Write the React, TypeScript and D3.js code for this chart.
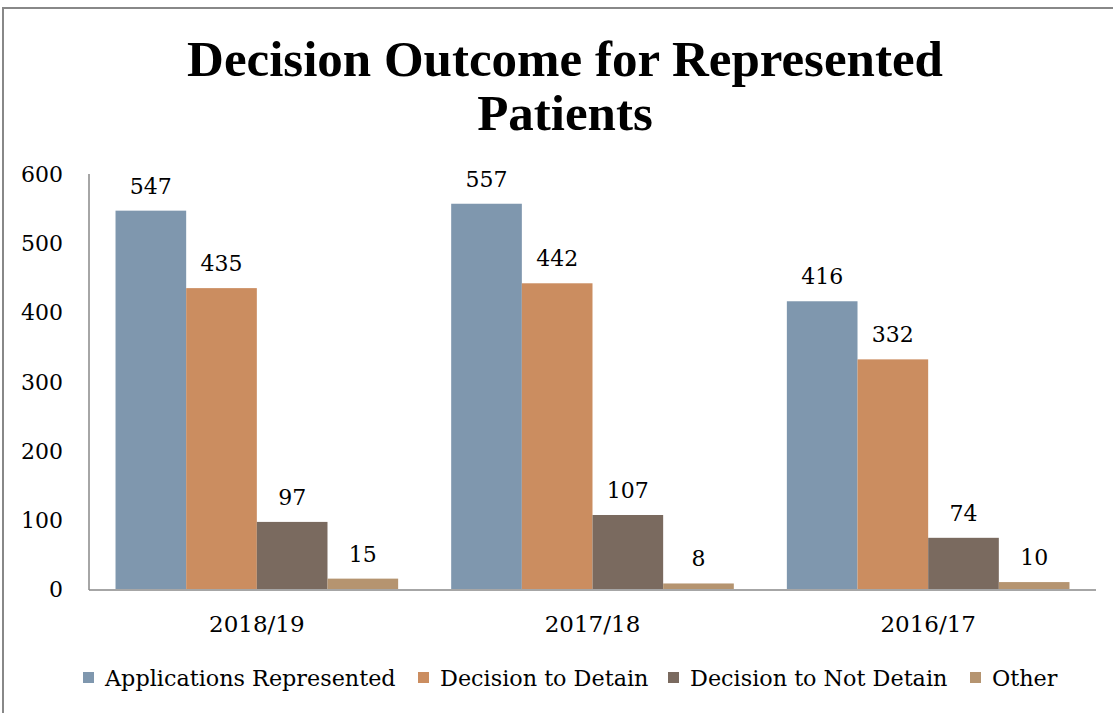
import React from "react";
import * as d3 from "d3";

const categories = ["2018/19", "2017/18", "2016/17"];
const seriesNames = ["Applications Represented", "Decision to Detain", "Decision to Not Detain", "Other"];
const applicationsRepresented = [547, 557, 416];
const decisionToDetain = [435, 442, 332];
const decisionToNotDetain = [97, 107, 74];
const other = [15, 8, 10];
const yTicks = [0, 100, 200, 300, 400, 500, 600];
const colors = ["#7F97AE", "#CB8D60", "#7A6A5F", "#B59470"];

const seriesValues = [applicationsRepresented, decisionToDetain, decisionToNotDetain, other];

export default function App() {
  const W = 1113;
  const H = 713;
  const left = 89;
  const right = 1096;
  const top = 174;
  const bottom = 589;

  const x0 = d3.scaleBand<string>().domain(categories).range([left, right]).paddingInner(0).paddingOuter(0);
  const inner = 0.842;
  const x1 = d3
    .scaleBand<string>()
    .domain(seriesNames)
    .range([(x0.bandwidth() * (1 - inner)) / 2, x0.bandwidth() - (x0.bandwidth() * (1 - inner)) / 2])
    .padding(0);
  const y = d3.scaleLinear().domain([0, 600]).range([bottom, top]);

  const font = "'DejaVu Serif', serif";
  const legendX = [83, 418, 668, 970];

  return (
    <svg width={W} height={H} style={{ position: "absolute", left: 0, top: 0 }}>
      <rect x={0} y={0} width={W} height={H} fill="#fff" />
      <path d={`M3,${H} V8 H${W}`} fill="none" stroke="#888" strokeWidth={2} />
      <text
        x={565}
        y={76}
        textAnchor="middle"
        fontFamily="'Liberation Serif', serif"
        fontWeight="bold"
        fontSize={51}
        fill="#000"
      >
        Decision Outcome for Represented
      </text>
      <text
        x={565}
        y={130}
        textAnchor="middle"
        fontFamily="'Liberation Serif', serif"
        fontWeight="bold"
        fontSize={51}
        fill="#000"
      >
        Patients
      </text>

      {yTicks.map((t) => (
        <text key={t} x={63} y={y(t) + 8} textAnchor="end" fontFamily={font} fontSize={22} fill="#000">
          {t}
        </text>
      ))}

      {categories.map((c, ci) => (
        <g key={c} transform={`translate(${x0(c)},0)`}>
          {seriesNames.map((s, si) => {
            const v = seriesValues[si][ci];
            const bx = x1(s)!;
            return (
              <g key={s}>
                <rect x={bx} y={y(v)} width={x1.bandwidth()} height={bottom - y(v)} fill={colors[si]} />
                <text
                  x={bx + x1.bandwidth() / 2}
                  y={y(v) - 17}
                  textAnchor="middle"
                  fontFamily={font}
                  fontSize={22}
                  fill="#000"
                >
                  {v}
                </text>
              </g>
            );
          })}
          <text
            x={x0.bandwidth() / 2}
            y={632}
            textAnchor="middle"
            fontFamily={font}
            fontSize={23}
            fill="#000"
          >
            {c}
          </text>
        </g>
      ))}

      <line x1={left} x2={left} y1={top} y2={bottom + 1} stroke="#888" strokeWidth={1.5} />
      <line x1={left} x2={right} y1={bottom + 1} y2={bottom + 1} stroke="#888" strokeWidth={1.5} />

      {seriesNames.map((s, i) => (
        <g key={s}>
          <rect x={legendX[i]} y={672} width={11} height={11} fill={colors[i]} />
          <text x={legendX[i] + 22} y={686} fontFamily={font} fontSize={22.3} fill="#000">
            {s}
          </text>
        </g>
      ))}
    </svg>
  );
}
